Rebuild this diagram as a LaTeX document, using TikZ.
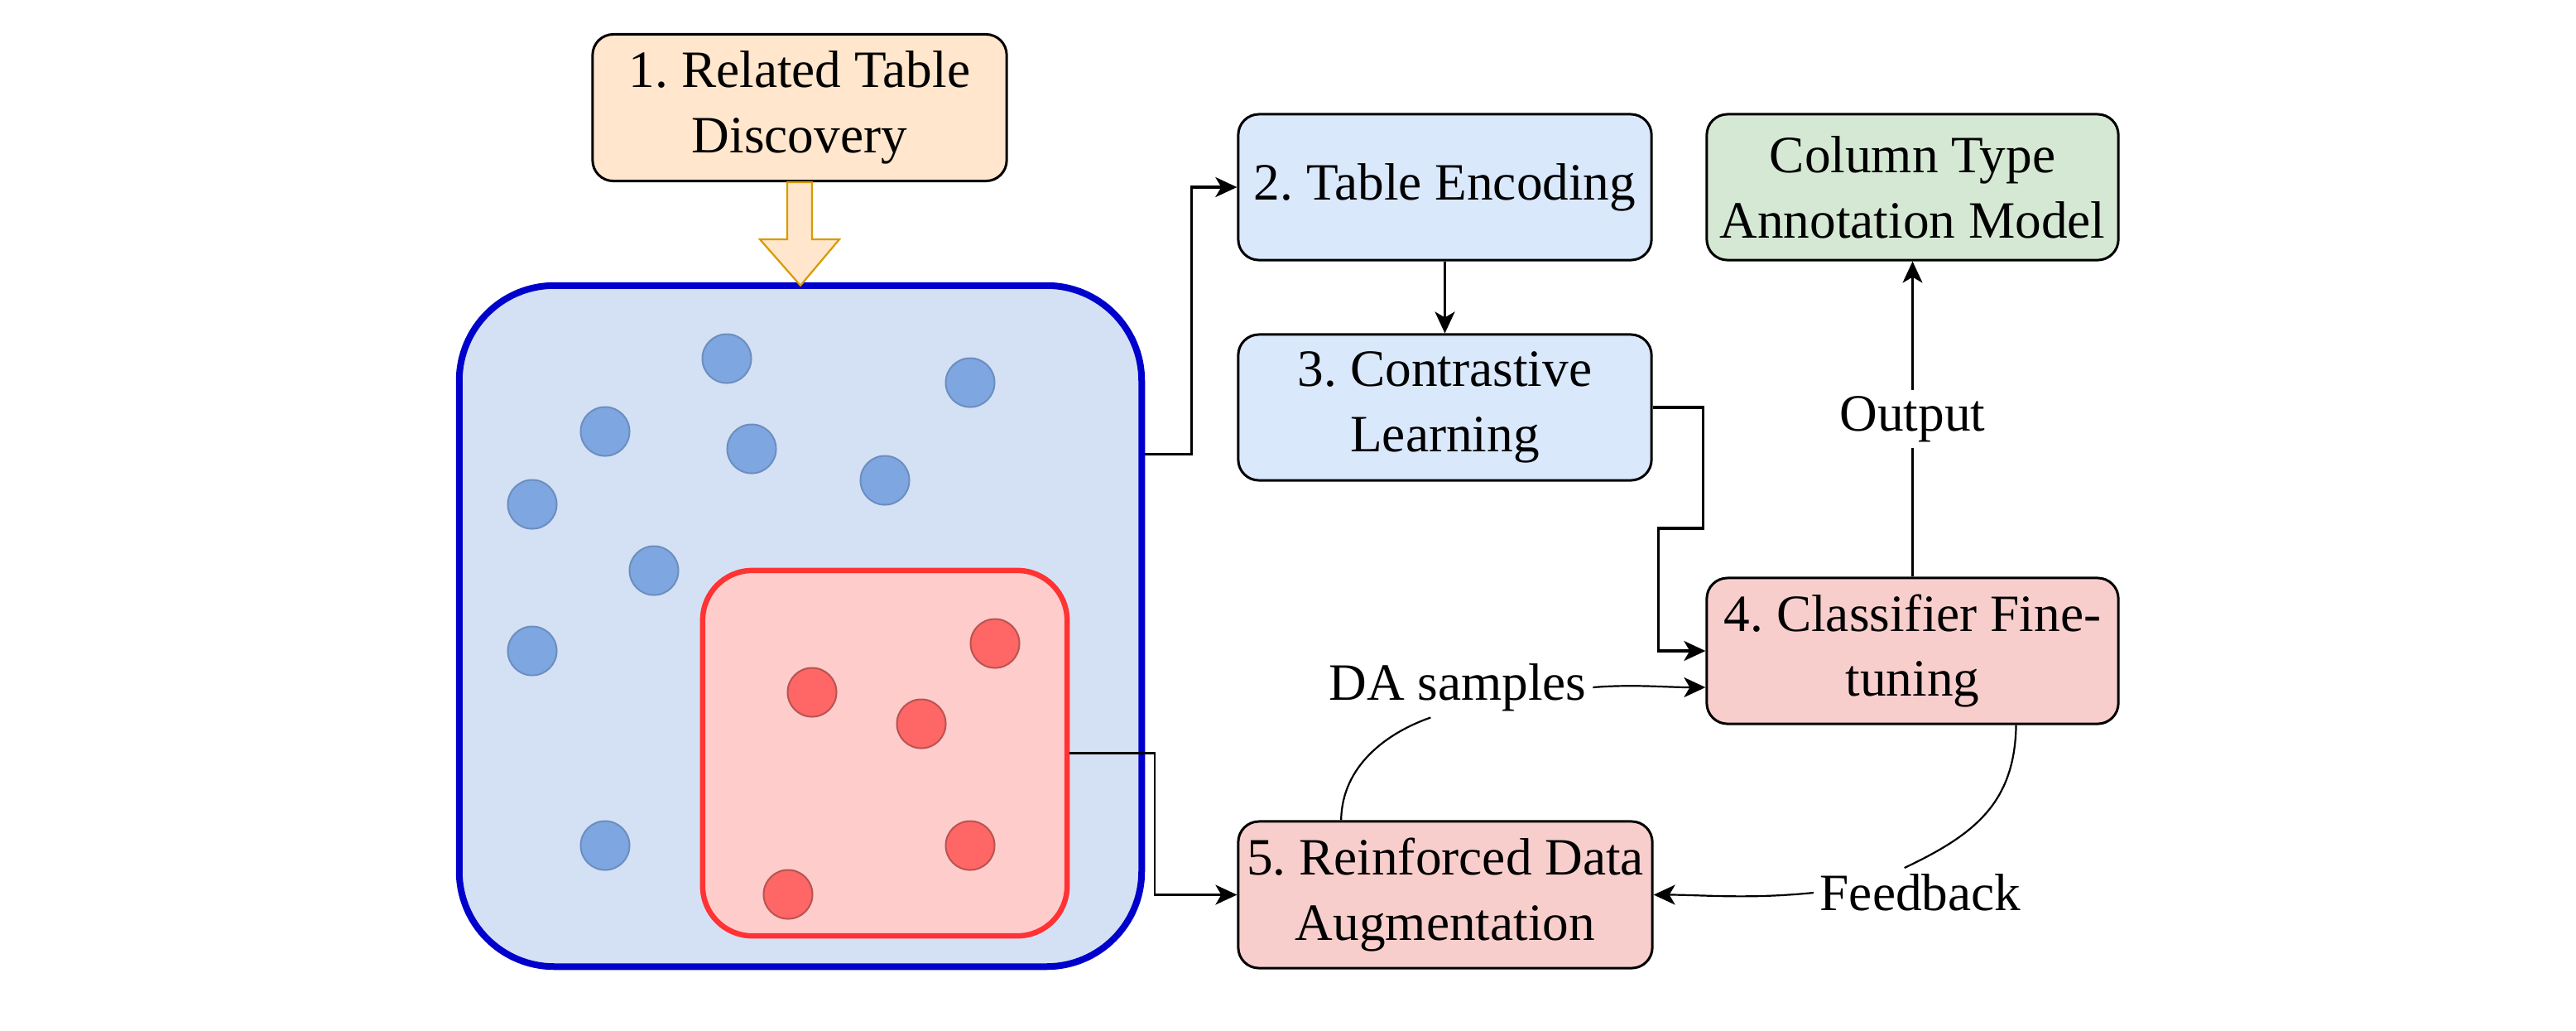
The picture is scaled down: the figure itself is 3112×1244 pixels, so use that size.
\documentclass[tikz,border=0pt]{standalone}
\usepackage{fontspec}
\setmainfont{Liberation Serif}
\usetikzlibrary{arrows.meta,calc,positioning}
\frenchspacing
\definecolor{orgfill}{HTML}{FFE6CC}
\definecolor{orgline}{HTML}{D79B00}
\definecolor{bluefill}{HTML}{DAE8FC}
\definecolor{greenfill}{HTML}{D5E8D4}
\definecolor{redfill}{HTML}{F8CECC}
\definecolor{poolfill}{HTML}{D4E1F5}
\definecolor{poolline}{HTML}{0000CC}
\definecolor{subfill}{HTML}{FFCCCC}
\definecolor{subline}{HTML}{FF3333}
\definecolor{bdotfill}{HTML}{7EA6E0}
\definecolor{bdotline}{HTML}{6C8EBF}
\definecolor{rdotfill}{HTML}{FF6666}
\definecolor{rdotline}{HTML}{B85450}
\tikzset{
  txt/.style={font=\fontsize{18}{22.4}\selectfont\frenchspacing, align=center},
  stepbox/.style={txt, draw=black, line width=0.03cm, rounded corners=0.25cm,
    minimum width=4.99cm, minimum height=1.76cm, inner sep=0pt},
  lbl/.style={txt, inner sep=2pt},
  bdot/.style={circle, minimum size=0.59cm, inner sep=0pt, fill=bdotfill, draw=bdotline, line width=0.02cm},
  rdot/.style={circle, minimum size=0.59cm, inner sep=0pt, fill=rdotfill, draw=rdotline, line width=0.02cm},
  tip/.style={-{Stealth[length=0.26cm,width=0.24cm,inset=0.07cm]}},
  thickarrow/.style={tip, line width=0.032cm},
  thinarrow/.style={tip, line width=0.022cm},
  thinline/.style={line width=0.022cm},
  hollowarrow/.style={draw=orgline, fill=orgfill, line width=0.022cm, line join=miter},
}
\begin{document}
\begin{tikzpicture}[x=0.01cm,y=-0.01cm]
\useasboundingbox (0,0) rectangle (3112,1244);

% pool and subset
\node[draw=poolline, fill=poolfill, line width=0.08cm, rounded corners=1.15cm,
  minimum width=8.24cm, minimum height=8.22cm, inner sep=0pt] (pool) at (967,756) {};
\node[draw=subline, fill=subfill, line width=0.065cm, rounded corners=0.6cm,
  minimum width=4.40cm, minimum height=4.41cm, inner sep=0pt] (sub) at (1069,909.5) {};

% blue dots
\node[bdot] (b01) at (878,433) {};
\node[bdot] (b02) at (1172,462) {};
\node[bdot] (b03) at (731,521) {};
\node[bdot] (b04) at (908,542) {};
\node[bdot] (b05) at (1069,580) {};
\node[bdot] (b06) at (643,609) {};
\node[bdot] (b07) at (790,689) {};
\node[bdot] (b08) at (643,786) {};
\node[bdot] (b09) at (731,1021) {};
% red dots
\node[rdot] (r01) at (1202,777) {};
\node[rdot] (r02) at (981,836) {};
\node[rdot] (r03) at (1113,874) {};
\node[rdot] (r04) at (1172,1021) {};
\node[rdot] (r05) at (952,1080) {};

% step boxes
\node[stepbox, fill=orgfill, minimum width=5.0cm, minimum height=1.77cm] (b1) at (966,130) {1. Related Table\\Discovery};
\node[stepbox, fill=bluefill] (b2) at (1745.5,226) {2. Table Encoding};
\node[stepbox, fill=bluefill] (b3) at (1745.5,492) {3. Contrastive\\Learning};
\node[stepbox, fill=greenfill, minimum width=4.97cm] (col) at (2310.5,226) {Column Type\\Annotation Model};
\node[stepbox, fill=redfill, minimum width=4.97cm] (b4) at (2310.5,786) {4. Classifier Fine-\\tuning};
\node[stepbox, fill=redfill, minimum width=5.0cm, minimum height=1.77cm] (b5) at (1746,1080.5) {5. Reinforced Data\\Augmentation};

% hollow arrow from 1 to pool
\draw[hollowarrow] ($(b1.south)+(-15,0)$) -- ++(0,69) -- ++(-33,0) -- ($(pool.north)+(0,4)$)
  -- ($(b1.south)+(48,69)$) -- ++(-33,0) -- ($(b1.south)+(15,0)$) -- cycle;

% connectors
\coordinate (poolout) at ($(pool.north east)!0.25!(pool.south east)$);
\draw[thickarrow] (poolout) -- ++(56,0) |- (b2.west);
\draw[thickarrow] (b2.south) -- (b3.north);
\draw[thickarrow] (b3.east) -- ++(61,0) -- ++(0,146) -- ++(-54,0) |- (b4.west);
\draw[thinarrow] (b4.north) -- node[lbl, fill=white, pos=0.5] (out) {Output} (col.south);
\draw[thinarrow] (sub.east) -- ++(103,0) |- (b5.west);

% DA samples
\node[lbl] (da) at (1761,830) {DA samples};
\coordinate (b5top) at ($(b5.north west)!0.25!(b5.north east)$);
\coordinate (daend) at ($(da.south)!0.2!(da.south west)$);
\draw[thinline] (b5top) .. controls (1621,925) and (1675,885) .. (daend);
\draw[thinarrow] (da.east) .. controls ($(da.east)+(50,-4)$) and ($(da.east -| b4.west)+(-50,0)$) .. (da.east -| b4.west);

% Feedback
\node[lbl] (fb) at (2320,1078) {Feedback};
\coordinate (b4bot) at ($(b4.south)!0.5!(b4.south east)$);
\coordinate (fbend) at ($(fb.north)!0.15!(fb.north west)$);
\draw[thinline] (b4bot) .. controls (2434,970) and (2385,1008) .. (fbend);
\draw[thinarrow] (fb.west) .. controls ($(fb.west)+(-80,8)$) and ($(b5.east)+(60,0)$) .. (b5.east);
\end{tikzpicture}
\end{document}
